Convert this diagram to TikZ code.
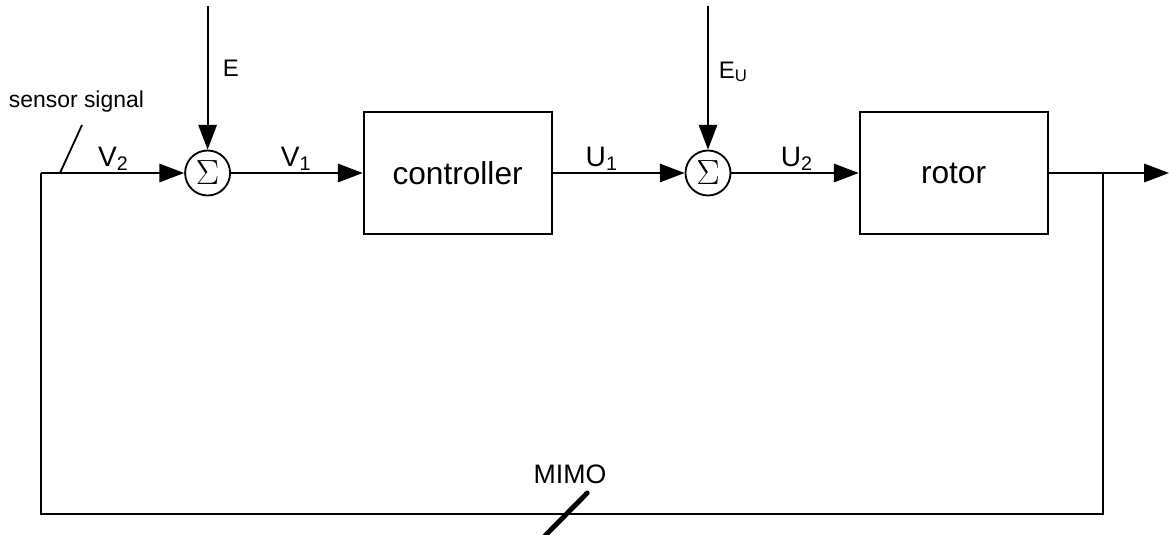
\documentclass[tikz,border=0pt]{standalone}
\usepackage{fontspec}
\setmainfont{Liberation Sans}
\usetikzlibrary{arrows.meta}
\begin{document}
\begin{tikzpicture}[
    line width=1.3pt,
    >={Triangle[length=0.62cm,width=0.46cm]},
    block/.style={draw, minimum width=4.7cm, minimum height=3.03cm, font=\fontsize{22.5}{26}\selectfont},
    sumnode/.style={draw, circle, minimum size=1.125cm, inner sep=0pt, font=\fontsize{24}{26}\selectfont},
    sig/.style={inner sep=0pt, anchor=base west, font=\fontsize{20}{23}\selectfont}]
    \useasboundingbox (0,0) rectangle (29.225,13.35);

    % Summing junctions and blocks on the forward path
    \node[sumnode] (SumV) at (5.19,9.025) {$\Sigma$};
    \node[block] (Ctrl) at (11.44,9.025) {controller};
    \node[sumnode] (SumU) at (17.7,9.025) {$\Sigma$};
    \node[block] (Rotor) at (23.84,9.025) {rotor};

    % Disturbance inputs from the top
    \coordinate (E) at (5.19,13.2);
    \coordinate (EU) at (17.7,13.2);

    % Output and feedback loop corners
    \coordinate (Out) at (29.225,9.025);
    \coordinate (Tap) at (27.58,9.025);
    \coordinate (TapLow) at (27.58,0.5);
    \coordinate (FbLow) at (1.03,0.5);
    \coordinate (Fb) at (1.03,9.025);

    % Ends of the two slash marks
    \coordinate (SensA) at (1.5,9.025);
    \coordinate (SensB) at (2.05,10.225);
    \coordinate (MimoA) at (13.62,-0.05);
    \coordinate (MimoB) at (14.68,1.025);

    % Forward path
    \draw[->] (Fb) -- (SumV);
    \draw[->] (SumV) -- (Ctrl);
    \draw[->] (Ctrl) -- (SumU);
    \draw[->] (SumU) -- (Rotor);
    \draw[->] (Rotor) -- (Out);

    % Disturbances
    \draw[->] (E) -- (SumV);
    \draw[->] (EU) -- (SumU);

    % Feedback path
    \draw (Tap) -- (TapLow) -- (FbLow) -- (Fb);

    % Slash marks
    \draw (SensA) -- (SensB);
    \draw[line width=3.5pt, line cap=round] (MimoA) -- (MimoB);

    % Labels
    \node[sig, font=\fontsize{17}{20}\selectfont] (LabE) at (5.55,11.45) {E};
    \node[sig, font=\fontsize{17}{20}\selectfont] (LabEU) at (17.95,11.4) {E\textsubscript{U}};
    \node[sig] (LabV2) at (2.43,9.2) {V\textsubscript{2}};
    \node[sig] (LabV1) at (7.0,9.2) {V\textsubscript{1}};
    \node[sig] (LabU1) at (14.62,9.2) {U\textsubscript{1}};
    \node[sig] (LabU2) at (19.5,9.2) {U\textsubscript{2}};
    \node[sig, font=\fontsize{16.3}{19}\selectfont] (LabSens) at (0.2,10.675) {sensor signal};
    \node[sig, font=\fontsize{19}{22}\selectfont] (LabMimo) at (13.32,1.275) {MIMO};
\end{tikzpicture}
\end{document}
